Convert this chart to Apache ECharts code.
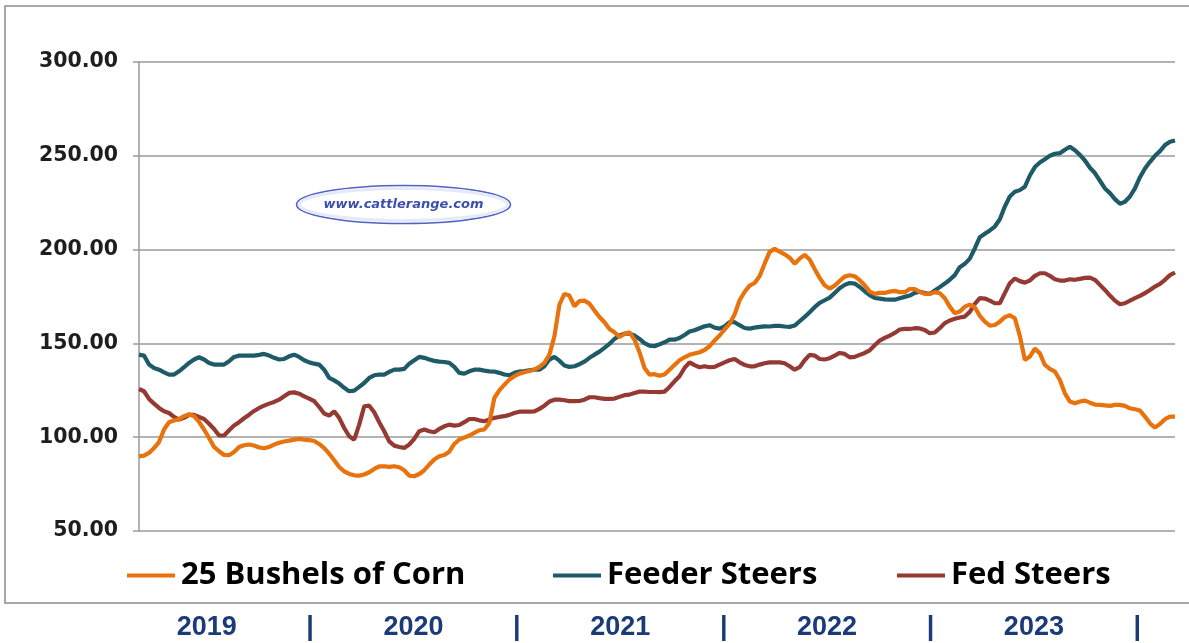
<!DOCTYPE html>
<html>
<head>
<meta charset="utf-8">
<script src="https://cdn.jsdelivr.net/npm/echarts@6/dist/echarts.min.js"></script>
<style>
html,body{margin:0;padding:0;background:#fff;}
#chart{width:1189px;height:643px;}
</style>
</head>
<body>
<div id="chart"></div>
<script>
// ---- Data (weekly, 2019 - 2023), values in $ ----
const cornValues = [
89.8,90.2,91.6,94.2,97.4,104.1,108.0,108.9,109.7,111.2,112.2,111.2,108.2,104.1,99.6,94.8,92.5,90.5,90.4,92.1,94.8,95.7,96.1,95.6,94.5,94.1,94.8,96.1,97.0,97.7,98.2,98.7,99.1,98.7,98.4,98.0,96.4,94.2,91.2,87.7,84.1,81.8,80.4,79.7,79.5,80.1,81.3,83.1,84.5,84.5,84.2,84.5,84.0,
82.4,79.5,79.2,80.4,82.4,85.4,88.1,89.8,90.5,92.3,96.4,98.8,99.8,100.9,102.3,103.7,104.1,107.6,120.9,125.0,128.0,130.7,132.5,133.9,134.6,135.3,136.0,137.5,139.6,144.0,153.8,170.7,176.4,175.5,169.8,172.6,172.8,171.2,167.5,164.1,161.3,157.7,155.9,153.4,155.0,155.9,152.0,145.3,136.9,133.4,133.6,132.8,
133.4,136.0,138.5,141.0,142.6,143.9,144.6,145.3,146.5,148.5,151.5,154.2,157.4,160.4,165.4,173.0,177.4,180.8,182.2,185.8,192.5,198.8,200.4,198.9,197.5,195.7,192.5,195.2,197.2,194.7,189.7,184.9,181.0,179.2,180.8,183.3,185.6,186.3,185.8,183.7,181.0,177.6,176.4,176.9,176.9,177.6,178.0,177.3,177.3,179.0,179.0,177.5,
176.4,176.4,177.3,176.8,174.1,169.6,166.1,167.0,169.6,170.7,169.3,164.7,161.6,159.5,159.8,161.6,164.0,165.0,163.4,154.0,141.2,143.0,147.2,144.7,138.5,136.4,135.0,130.5,123.4,119.0,118.1,119.0,119.5,118.4,117.4,117.2,117.0,116.7,117.2,117.2,116.7,115.4,114.9,114.2,111.0,107.4,105.1,107.1,109.6,111.0,111.0
];
const feederValues = [
144.0,143.5,138.7,136.9,136.0,134.6,133.4,133.4,135.1,137.3,139.6,141.4,142.6,141.4,139.6,138.7,138.7,138.7,140.5,142.8,143.5,143.5,143.5,143.5,143.9,144.4,143.5,142.3,141.4,141.7,143.1,144.0,142.8,141.0,139.9,139.2,138.7,136.0,131.6,130.3,128.6,126.3,124.5,124.8,126.8,128.9,131.6,133.0,133.4,133.4,134.8,136.0,136.0,
136.4,139.2,141.0,142.8,142.3,141.4,140.7,140.3,140.1,139.6,137.5,134.3,133.9,135.1,136.0,136.0,135.5,135.1,135.0,134.3,133.4,133.0,134.3,135.0,135.3,135.7,136.0,136.0,137.8,141.4,142.8,140.8,138.2,137.5,137.8,138.9,140.3,142.3,144.0,145.6,147.6,149.7,152.4,154.2,155.2,155.2,154.2,152.4,150.2,148.8,148.5,149.5,
150.6,152.0,152.0,152.9,154.5,156.3,157.0,158.1,159.1,159.7,158.4,157.9,159.1,161.3,161.3,159.7,158.2,157.9,158.4,158.8,159.1,159.0,159.3,159.3,159.0,158.8,159.5,161.8,164.1,166.6,169.3,171.6,173.0,174.4,176.9,179.4,181.2,182.2,181.9,180.1,177.8,175.7,174.2,173.9,173.5,173.3,173.3,174.1,174.8,175.5,176.9,177.5,
176.8,176.4,178.2,180.0,181.9,183.9,186.4,190.6,192.4,195.2,200.6,206.6,208.4,210.2,212.3,216.2,223.0,228.3,230.8,231.7,233.5,239.5,244.0,246.4,248.2,250.0,251.1,251.4,253.2,254.8,253.0,250.5,247.5,243.6,240.8,236.7,232.6,230.1,226.9,224.4,225.5,228.3,232.6,238.6,243.2,246.8,250.0,252.5,255.7,257.5,258.2
];
const fedValues = [
125.7,124.5,120.4,117.9,115.6,113.8,112.9,110.8,109.4,110.3,111.9,111.9,110.8,109.7,107.2,104.4,100.9,100.9,103.7,106.2,108.0,110.1,112.0,114.0,115.6,116.8,117.9,118.8,120.0,121.8,123.6,123.9,123.2,121.8,120.6,119.2,116.1,112.6,111.5,113.8,110.3,104.9,100.5,98.7,106.7,116.5,116.8,113.3,108.0,103.2,97.8,95.5,94.8,
94.3,96.1,99.1,103.2,104.1,103.2,102.6,104.4,105.8,106.7,106.2,106.5,108.0,109.7,109.7,109.0,108.5,109.4,110.3,110.8,111.2,111.9,112.9,113.6,113.6,113.6,113.8,115.1,116.8,119.0,120.0,120.0,119.7,119.2,119.2,119.3,120.0,121.3,121.3,120.8,120.4,120.4,120.6,121.5,122.4,122.7,123.6,124.3,124.3,124.1,124.1,124.0,
124.3,126.8,129.8,132.5,136.9,139.9,138.4,137.3,137.8,137.3,137.5,138.7,139.9,141.0,141.7,139.9,138.5,137.8,137.8,138.7,139.4,139.9,139.9,139.9,139.4,137.8,136.0,137.3,141.0,143.9,143.5,141.7,141.4,142.1,143.5,144.9,144.4,142.6,142.8,143.9,144.9,146.3,149.0,151.5,152.9,154.2,155.6,157.4,157.7,157.7,158.1,158.0,
157.2,155.4,155.8,158.1,160.8,162.2,163.1,163.8,164.3,166.8,171.1,174.1,173.9,172.8,171.4,171.4,176.8,182.1,184.6,183.2,182.4,183.5,186.0,187.4,187.4,186.0,184.2,183.5,183.5,184.2,183.9,184.4,184.9,185.1,183.9,181.2,178.5,175.5,172.8,170.9,171.4,172.8,174.1,175.3,176.8,178.5,180.3,181.7,183.9,186.4,187.8
];
const seriesNames = ['25 Bushels of Corn', 'Feeder Steers', 'Fed Steers'];
const yearLabels = ['2019','|','2020','|','2021','|','2022','|','2023','|'];
const yTicks = {min: 50, max: 300, interval: 50};
const weeks = cornValues.map((_, i) => String(i + 1));

const colors = ['#E8720C', '#1E5A68', '#953A33'];
const legendLeft = [127, 553, 897];

const chart = echarts.init(document.getElementById('chart'), null, {renderer: 'canvas'});
const option = {
  backgroundColor: '#ffffff',
  animation: false,
  color: colors,
  graphic: [
    {type: 'rect', shape: {x: 5, y: 6, width: 1200, height: 597}, style: {fill: 'none', stroke: '#8c8c8c', lineWidth: 1.5}, z: 0, silent: true},
    {type: 'ellipse', shape: {cx: 403.5, cy: 204.5, rx: 107, ry: 19},
      style: {fill: '#ffffff', stroke: '#4E62C4', lineWidth: 1.6}, z: 10, silent: true},
    {type: 'ellipse', shape: {cx: 403.5, cy: 204.5, rx: 104, ry: 16},
      style: {fill: 'none', stroke: '#e6e9f8', lineWidth: 3}, z: 10, silent: true},
    {type: 'text', x: 403.5, y: 204.5, style: {text: 'www.cattlerange.com', fill: '#3A4FAE', font: 'italic bold 13px "DejaVu Sans"', textAlign: 'center', textVerticalAlign: 'middle'}, z: 11, silent: true}
  ],
  legend: seriesNames.map((name, k) => ({
    data: [name],
    left: legendLeft[k],
    top: 560,
    padding: 0,
    icon: 'rect',
    itemWidth: 48,
    itemHeight: 4,
    textStyle: {color: '#000', fontFamily: 'Open Sans', fontWeight: 'bold', fontSize: 31, padding: [0,0,0,1]}
  })),
  grid: [
    {left: 139, right: 14, top: 62, bottom: 112, containLabel: false},
    {left: 155, width: 1034, top: 612, height: 1}
  ],
  xAxis: [
    {type: 'category', gridIndex: 0, data: weeks, boundaryGap: false,
      axisLine: {show: false}, axisTick: {show: false}, axisLabel: {show: false}, splitLine: {show: false}},
    {type: 'category', gridIndex: 1, data: yearLabels, boundaryGap: true, position: 'bottom',
      axisLine: {show: false}, axisTick: {show: false}, splitLine: {show: false},
      axisLabel: {color: '#1B3A78', fontFamily: 'Liberation Sans', fontWeight: 'bold', fontSize: 27, margin: 1, interval: 0}}
  ],
  yAxis: [
    {type: 'value', gridIndex: 0, min: yTicks.min, max: yTicks.max, interval: yTicks.interval,
      axisLine: {show: true, lineStyle: {color: '#9a9a9a', width: 1.5}},
      axisTick: {show: true, inside: false, length: 6, lineStyle: {color: '#9a9a9a', width: 1.5}},
      splitLine: {show: true, lineStyle: {color: '#9a9a9a', width: 1.5}},
      axisLabel: {formatter: v => v.toFixed(2), color: '#1e1e1e', fontFamily: 'DejaVu Sans', fontWeight: 'bold', fontSize: 20.5, margin: 21}},
    {type: 'value', gridIndex: 1, show: false}
  ],
  series: [
    {name: seriesNames[0], type: 'line', data: cornValues, showSymbol: false, symbol: 'none', lineStyle: {width: 4.2, color: colors[0]}, z: 3},
    {name: seriesNames[1], type: 'line', data: feederValues, showSymbol: false, symbol: 'none', lineStyle: {width: 4.2, color: colors[1]}, z: 2},
    {name: seriesNames[2], type: 'line', data: fedValues, showSymbol: false, symbol: 'none', lineStyle: {width: 4.2, color: colors[2]}, z: 2}
  ]
};
chart.setOption(option);
</script>
</body>
</html>
